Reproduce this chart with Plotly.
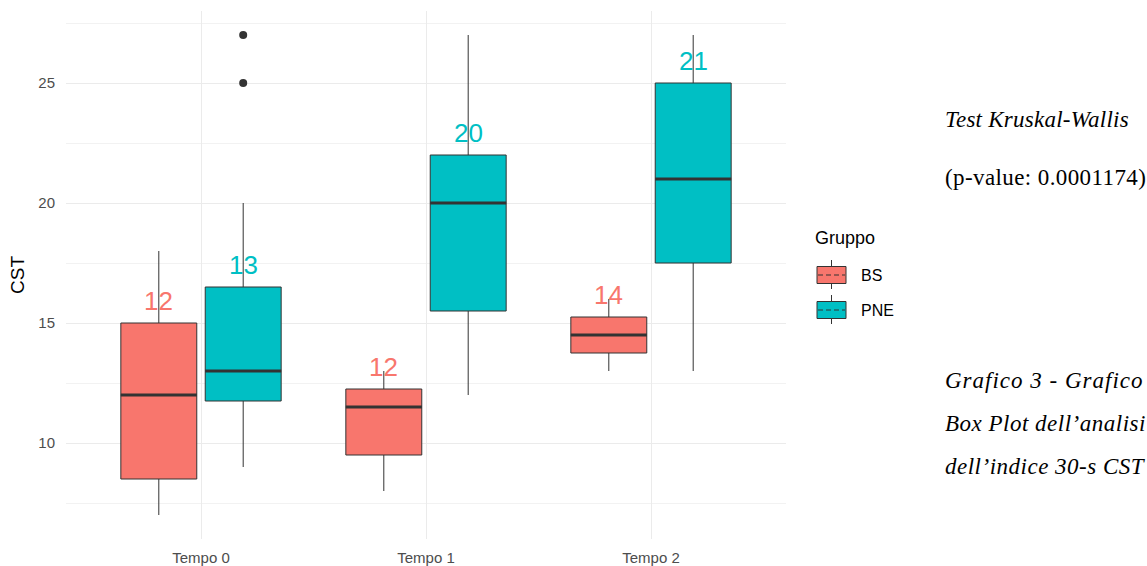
import plotly.graph_objects as go

# Categories and groups
tempi = ["Tempo 0", "Tempo 1", "Tempo 2"]
gruppi = ["BS", "PNE"]
colori = {"BS": "#F8766D", "PNE": "#00BFC4"}

# Box statistics per group (one value per time point)
q1 = {"BS": [8.5, 9.5, 13.75], "PNE": [11.75, 15.5, 17.5]}
mediana = {"BS": [12.0, 11.5, 14.5], "PNE": [13.0, 20.0, 21.0]}
q3 = {"BS": [15.0, 12.25, 15.25], "PNE": [16.5, 22.0, 25.0]}
baffo_inf = {"BS": [7.0, 8.0, 13.0], "PNE": [9.0, 12.0, 13.0]}
baffo_sup = {"BS": [18.0, 13.0, 16.0], "PNE": [20.0, 27.0, 27.0]}

# Outliers: (time index, value)
outlier_pne_tempo = [0, 0]
outlier_pne_val = [25.0, 27.0]

# Dodge geometry (ggplot-like)
dodge = 0.75
box_w = dodge / 2 * 0.9
offset = {"BS": -dodge / 4, "PNE": dodge / 4}

xpos = list(range(len(tempi)))

W, H = 1147, 566
ml, mr, mt, mb = 66, 361, 11, 27
pw, ph = W - ml - mr, H - mt - mb


def px_x(v):
    return (v - ml) / pw


def px_y(v):
    return (H - v - mb) / ph


fig = go.Figure()

for g in gruppi:
    fig.add_trace(go.Box(
        x=xpos, q1=q1[g], median=mediana[g], q3=q3[g],
        lowerfence=baffo_inf[g], upperfence=baffo_sup[g],
        name=g, fillcolor=colori[g],
        line=dict(color="#333333", width=1),
        whiskerwidth=0,
        boxpoints=False, hoverinfo="skip", showlegend=False,
    ))

# Thicker median lines drawn on top
for g in gruppi:
    mx, my = [], []
    for i, m in zip(xpos, mediana[g]):
        c = i + offset[g]
        mx += [c - box_w / 2, c + box_w / 2, None]
        my += [m, m, None]
    fig.add_trace(go.Scatter(x=mx, y=my, mode="lines",
                             line=dict(color="#333333", width=3),
                             showlegend=False, hoverinfo="skip"))

# Outlier points
fig.add_trace(go.Scatter(
    x=[t + offset["PNE"] for t in outlier_pne_tempo], y=outlier_pne_val,
    mode="markers", marker=dict(color="#333333", size=8),
    showlegend=False, hoverinfo="skip"))

# Median labels above each box
annotations = []
for g in gruppi:
    for i, m, top in zip(xpos, mediana[g], q3[g]):
        annotations.append(dict(
            x=i + offset[g], y=top, xref="x", yref="y",
            text=str(round(m)), showarrow=False,
            yanchor="bottom", yshift=5,
            font=dict(family="Liberation Sans, Arial", size=26, color=colori[g]),
        ))

# Legend (ggplot-style keys)
shapes = []
annotations.append(dict(
    x=px_x(813), y=px_y(238), xref="paper", yref="paper",
    text="Gruppo", showarrow=False, xanchor="left", yanchor="middle",
    font=dict(family="Liberation Sans, Arial", size=18, color="#000000"),
))
for g, cy in zip(gruppi, [275, 310]):
    shapes.append(dict(type="line", xref="paper", yref="paper",
                       x0=px_x(831.5), x1=px_x(831.5),
                       y0=px_y(cy - 15), y1=px_y(cy + 14),
                       line=dict(color="#333333", width=1)))
    shapes.append(dict(type="rect", xref="paper", yref="paper",
                       x0=px_x(817), x1=px_x(846),
                       y0=px_y(cy - 8.5), y1=px_y(cy + 8.5),
                       fillcolor=colori[g], line=dict(color="#333333", width=1)))
    shapes.append(dict(type="line", xref="paper", yref="paper",
                       x0=px_x(818), x1=px_x(845),
                       y0=px_y(cy), y1=px_y(cy),
                       line=dict(color="#333333", width=1, dash="5px,3px")))
    annotations.append(dict(
        x=px_x(859), y=px_y(cy), xref="paper", yref="paper",
        text=g, showarrow=False, xanchor="left", yanchor="middle",
        font=dict(family="Liberation Sans, Arial", size=16, color="#000000"),
    ))

# Side text
serif = "Liberation Serif, Times New Roman, serif"
side = [
    ("<i>Test Kruskal-Wallis</i>", 120, 23, 0.25),
    ("(p-value: 0.0001174)", 177, 23, 0.4),
    ("<i>Grafico 3 - Grafico</i>", 380, 23, 1.0),
    ("<i>Box Plot dell’analisi</i>", 423, 23, 0.5),
    ("<i>dell’indice 30-s CST</i>", 466, 23, 0.5),
]
for txt, ypix, fs, ls in side:
    annotations.append(dict(
        x=px_x(943), y=px_y(ypix), xref="paper", yref="paper",
        text=f'<span style="letter-spacing:{ls}px">{txt}</span>',
        showarrow=False, xanchor="left", yanchor="middle",
        font=dict(family=serif, size=fs, color="#000000"),
    ))

fig.update_layout(
    width=W, height=H,
    margin=dict(l=ml, r=mr, t=mt, b=mb, pad=0, autoexpand=False),
    plot_bgcolor="white", paper_bgcolor="white",
    boxmode="group", boxgap=1 - dodge, boxgroupgap=0.1,
    font=dict(family="Liberation Sans, Arial", color="#4D4D4D"),
    xaxis=dict(
        tickvals=xpos, ticktext=tempi, range=[-0.6, 2.6],
        showgrid=True, gridcolor="#EBEBEB", gridwidth=1,
        zeroline=False, showline=False, ticks="",
        tickfont=dict(size=15, color="#4D4D4D"),
        ticklabelstandoff=8, automargin=False,
    ),
    yaxis=dict(
        range=[6, 28], tickvals=[10, 15, 20, 25],
        showgrid=True, gridcolor="#EBEBEB", gridwidth=1,
        minor=dict(tickvals=[7.5, 12.5, 17.5, 22.5, 27.5], showgrid=True,
                   gridcolor="#F2F2F2", gridwidth=1),
        zeroline=False, showline=False, ticks="",
        tickfont=dict(size=15, color="#4D4D4D"),
        ticklabelstandoff=10, automargin=False,
        title=dict(text="CST", font=dict(size=19, color="#000000"), standoff=8),
    ),
    shapes=shapes,
    annotations=annotations,
    showlegend=False,
)

fig.write_html("out.html")
